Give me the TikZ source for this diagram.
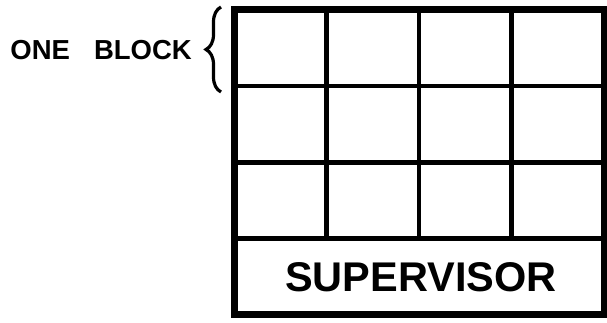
\documentclass[tikz,border=0pt]{standalone}
\usepackage{fontspec}
\setmainfont{Liberation Sans}
\usetikzlibrary{positioning,decorations.pathreplacing}

\tikzset{
  cadre/.style={line width=7pt},
  grille/.style={line width=4.5pt},
  accolade/.style={line width=3.2pt,decorate,
    decoration={brace,amplitude=15pt}}
}

\begin{document}
\begin{tikzpicture}[x=1pt,y=1pt]

\useasboundingbox (0,0) rectangle (607,323);

% Cases
\foreach \x in {326.5,419,511.5}
  \draw[grille] (\x,84.25) -- (\x,313);
\foreach \y in {84.25,160.5,236.75}
  \draw[grille] (234,\y) -- (604,\y);

% Contour extérieur
\draw[cadre]
(234,8)
rectangle
(604,313);

% Superviseur
\node[font=\bfseries\fontsize{41.5}{45}\selectfont] (sup)
at (421,46)
{SUPERVISOR};

% Accolade
\coordinate (bas) at (221,231);
\coordinate (haut) at (221,316);
\draw[accolade]
(bas)
--
(haut);
\coordinate (pointe) at (206,273);

\node[left=14pt of pointe,inner sep=0pt,
  font=\bfseries\fontsize{27.5}{31}\selectfont] (bloc)
{ONE\hspace{24pt}BLOCK};

\end{tikzpicture}
\end{document}
